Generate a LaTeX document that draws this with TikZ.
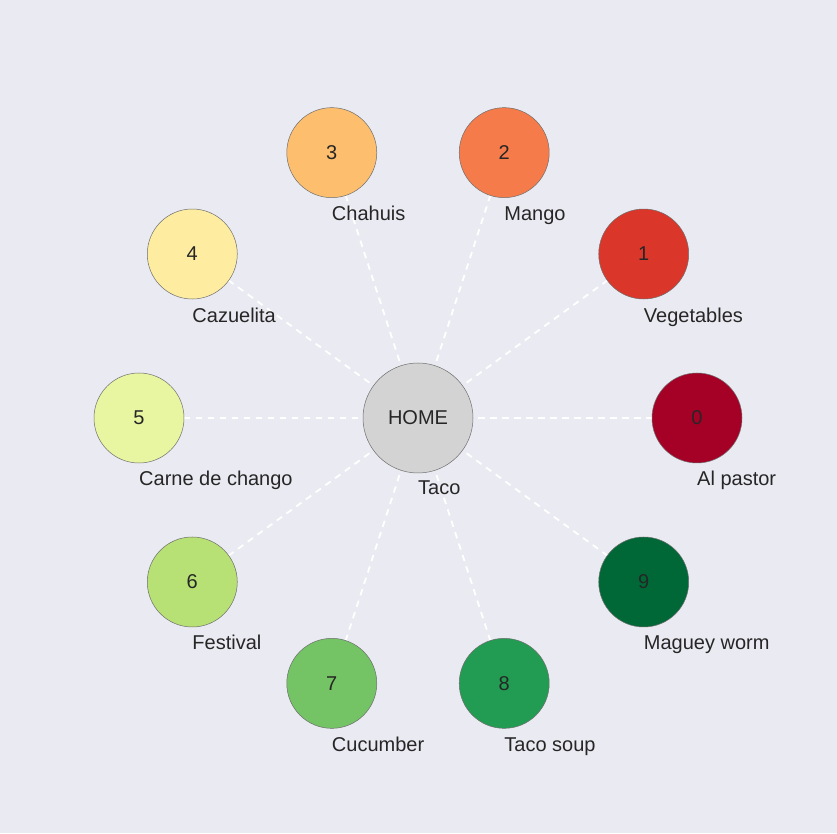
\documentclass[tikz,border=0pt]{standalone}
\usepackage{fontspec}
\setmainfont{Liberation Sans}
\usetikzlibrary{calc}
\definecolor{bg}{HTML}{EAEAF2}
\definecolor{txt}{HTML}{262626}
\definecolor{edgec}{HTML}{6E6E6E}
\definecolor{c0}{HTML}{A50026}
\definecolor{c1}{HTML}{DA362A}
\definecolor{c2}{HTML}{F67B4A}
\definecolor{c3}{HTML}{FDBE6E}
\definecolor{c4}{HTML}{FEEDA1}
\definecolor{c5}{HTML}{E9F6A1}
\definecolor{c6}{HTML}{B7E075}
\definecolor{c7}{HTML}{74C365}
\definecolor{c8}{HTML}{229C52}
\definecolor{c9}{HTML}{006837}
\definecolor{hub}{HTML}{D3D3D3}
\begin{document}
\begin{tikzpicture}[x=1pt,y=1pt,
  every node/.style={font=\fontsize{20}{24}\selectfont, text=txt},
  leaf/.style={circle, draw=edgec, line width=0.5pt, minimum size=90pt, inner sep=0pt},
  hubnode/.style={circle, draw=edgec, line width=0.5pt, fill=hub, minimum size=110pt, inner sep=0pt},
  lbl/.style={anchor=base west, inner sep=0pt},
  link/.style={white, line width=1.8pt, dash pattern=on 6.5pt off 5.5pt}]
\fill[bg] (0,0) rectangle (837,833);
\useasboundingbox (0,0) rectangle (837,833);
\coordinate (c) at (418,415);
\foreach \k in {0,...,9}{
  \coordinate (p\k) at ($(c)+(36*\k:279)$);
}
\foreach \k in {0,...,9}{ \draw[link] (c) -- (p\k); }
\node[hubnode] (home) at (c) {HOME};
\node[lbl] (homelbl) at ($(c)+(0,-76.5)$) {Taco};
\foreach \k/\col/\name in {0/c0/Al pastor,1/c1/Vegetables,2/c2/Mango,3/c3/Chahuis,4/c4/Cazuelita,5/c5/Carne de chango,6/c6/Festival,7/c7/Cucumber,8/c8/Taco soup,9/c9/Maguey worm}{
  \node[leaf, fill=\col] (n\k) at (p\k) {\k};
  \node[lbl] (l\k) at ($(p\k)+(0,-68)$) {\name};
}
\end{tikzpicture}
\end{document}
